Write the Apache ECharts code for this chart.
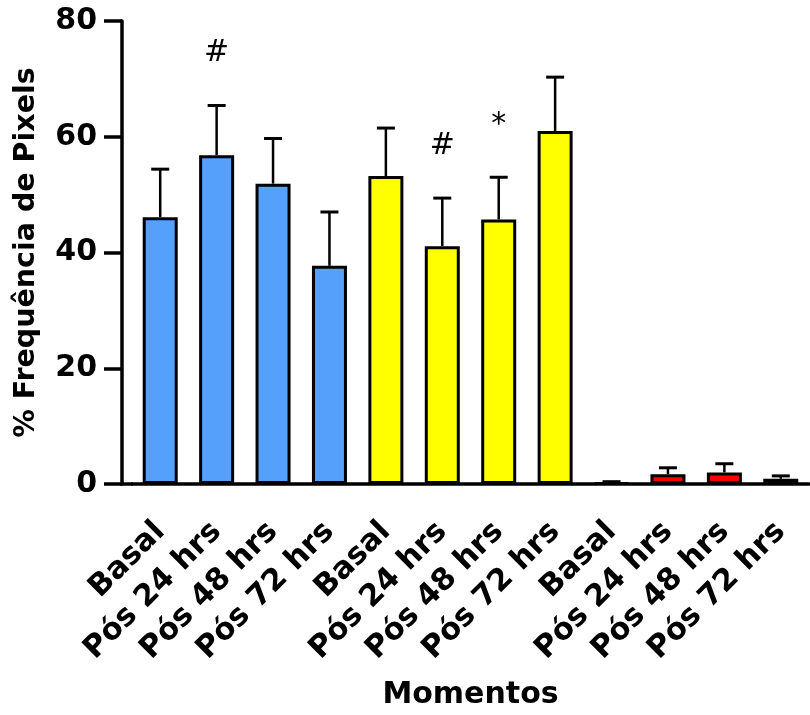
<!DOCTYPE html>
<html>
<head>
<meta charset="utf-8">
<script src="https://cdn.jsdelivr.net/npm/echarts@6/dist/echarts.min.js"></script>
<style>html,body{margin:0;padding:0;background:#fff}#c{width:810px;height:715px}</style>
</head>
<body>
<div id="c"></div>
<script>
// ---- data ----
const categories = ['Basal','Pós 24 hrs','Pós 48 hrs','Pós 72 hrs','Basal','Pós 24 hrs','Pós 48 hrs','Pós 72 hrs','Basal','Pós 24 hrs','Pós 48 hrs','Pós 72 hrs'];
const blueMeans = [46.1, 56.8, 51.9, 37.7];
const blueSD = [8.3, 8.6, 7.8, 9.3];
const yellowMeans = [53.2, 41.1, 45.7, 61.0];
const yellowSD = [8.3, 8.3, 7.3, 9.3];
const redMeans = [0.2, 1.7, 2.0, 0.9];
const redSD = [0.2, 1.1, 1.5, 0.5];
const annotations = ['', '#', '', '', '', '#', '*', '', '', '', '', ''];
const yTicks = [0, 20, 40, 60, 80];

// ---- style ----
const FONT = 'DejaVu Sans';
const groupColors = ['#55A0FB', '#FFFF00', '#FF0000'];
const gridLeft = 132, yOffset = 10;

const means = [].concat(blueMeans, yellowMeans, redMeans);
const sds = [].concat(blueSD, yellowSD, redSD);
const groupOf = [0,0,0,0,1,1,1,1,2,2,2,2];

const barData = means.map((v, i) => ({ value: v, itemStyle: { color: groupColors[groupOf[i]] } }));
const errData = means.map((v, i) => [i, v, v + sds[i]]);

const chart = echarts.init(document.getElementById('c'), null, { renderer: 'canvas' });
const option = {
  animation: false,
  backgroundColor: '#fff',
  grid: { left: gridLeft, right: 1, top: 21, bottom: 231, containLabel: false },
  xAxis: {
    type: 'category',
    data: categories,
    name: 'Momentos',
    nameLocation: 'middle',
    nameGap: 196,
    nameTextStyle: { fontFamily: FONT, fontWeight: 'bold', fontSize: 30, color: '#000' },
    axisLine: { lineStyle: { color: '#000', width: 3.5 } },
    axisTick: { alignWithLabel: true, length: 18, lineStyle: { color: '#000', width: 3.5 } },
    axisLabel: {
      interval: 0, rotate: 45, margin: 43, verticalAlign: 'middle',
      fontFamily: FONT, fontWeight: 'bold', fontSize: 30.5, color: '#000'
    }
  },
  yAxis: {
    type: 'value',
    min: yTicks[0], max: yTicks[yTicks.length - 1], interval: 20,
    offset: yOffset,
    name: '% Frequência de Pixels',
    nameLocation: 'middle',
    nameGap: 81,
    nameTextStyle: { fontFamily: FONT, fontWeight: 'bold', fontSize: 28.5, color: '#000' },
    axisLine: { show: true, lineStyle: { color: '#000', width: 3.5 } },
    axisTick: { show: true, length: 18, lineStyle: { color: '#000', width: 3.5 } },
    axisLabel: { margin: 25, fontFamily: FONT, fontWeight: 'bold', fontSize: 30, color: '#000' },
    splitLine: { show: false }
  },
  series: [
    {
      type: 'bar',
      data: barData,
      barWidth: 35,
      itemStyle: { borderColor: '#000', borderWidth: 3 },
      z: 2
    },
    {
      type: 'custom',
      data: errData,
      z: 3,
      renderItem: function (params, api) {
        const i = api.value(0);
        const base = api.coord([i, api.value(1)]);
        const top = api.coord([i, api.value(2)]);
        const capHalf = 9;
        const children = [
          { type: 'line', shape: { x1: base[0], y1: base[1], x2: top[0], y2: top[1] }, style: { stroke: '#000', lineWidth: 2.5 } },
          { type: 'line', shape: { x1: top[0] - capHalf, y1: top[1], x2: top[0] + capHalf, y2: top[1] }, style: { stroke: '#000', lineWidth: 3 } }
        ];
        const ann = annotations[params.dataIndex];
        if (ann) {
          children.push({ type: 'text', style: { text: ann, x: top[0], y: top[1] - 52, align: 'center', verticalAlign: 'middle', font: 'normal 30px "' + FONT + '"', fill: '#000' } });
        }
        return { type: 'group', children: children };
      }
    }
  ]
};
chart.setOption(option);
const y0 = chart.convertToPixel({ yAxisIndex: 0 }, 0);
chart.setOption({
  graphic: [{
    type: 'line',
    shape: { x1: gridLeft - yOffset - 1.75, y1: y0, x2: gridLeft + 1, y2: y0 },
    style: { stroke: '#000', lineWidth: 3.5 },
    z: 10
  }]
});
</script>
</body>
</html>
